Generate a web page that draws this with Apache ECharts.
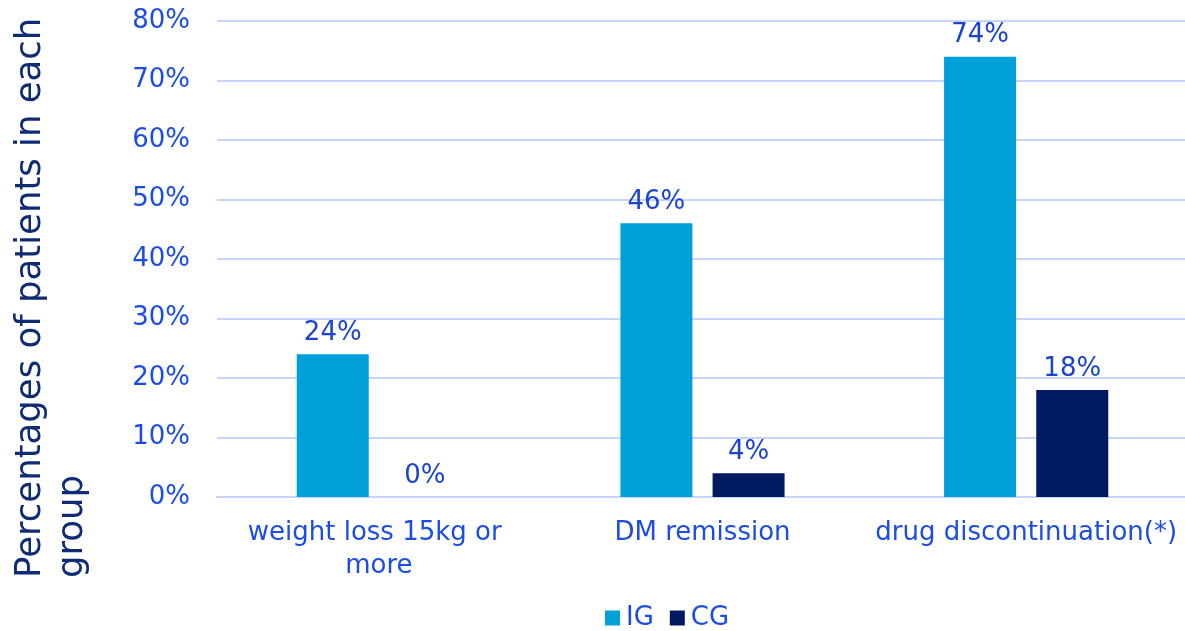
<!DOCTYPE html>
<html>
<head>
<meta charset="utf-8">
<script src="https://cdn.jsdelivr.net/npm/echarts@6/dist/echarts.min.js"></script>
<style>
  html, body { margin: 0; padding: 0; background: #ffffff; }
  #chart { width: 1185px; height: 631px; }
</style>
</head>
<body>
<div id="chart"></div>
<script>
// Outcome categories and the share of patients (%) in each group
const categories = ['weight loss 15kg or more', 'DM remission', 'drug discontinuation(*)'];
const igValues = [24, 46, 74];
const cgValues = [0, 4, 18];
const yTicks = [0, 10, 20, 30, 40, 50, 60, 70, 80];

const FONT = 'DejaVu Sans, Verdana, sans-serif';
const TEXT_BLUE = '#1b4de6';
const LABEL_BLUE = '#1a43cf';
const GRID = '#c6d4f7';

const chart = echarts.init(document.getElementById('chart'), null, { renderer: 'canvas' });

const labelStyle = {
  show: true,
  position: 'top',
  distance: 8,
  color: LABEL_BLUE,
  fontFamily: FONT,
  fontSize: 26,
  formatter: p => p.value + '%'
};

chart.setOption({
  animation: false,
  backgroundColor: '#ffffff',
  grid: {
    left: 217, width: 971, top: 21, bottom: 134,
    containLabel: false,
    outerBoundsMode: 'none'
  },
  legend: {
    top: 600,
    left: 600,
    itemWidth: 15,
    itemHeight: 15,
    itemGap: 16,
    icon: 'rect',
    textStyle: { color: TEXT_BLUE, fontFamily: FONT, fontSize: 26, padding: [0, 4, 0, 1] },
    data: ['IG', 'CG']
  },
  xAxis: {
    type: 'category',
    data: categories,
    axisLine: { show: true, lineStyle: { color: GRID, width: 2 } },
    axisTick: { show: false },
    axisLabel: {
      color: TEXT_BLUE,
      fontFamily: FONT,
      fontSize: 26,
      margin: 20,
      lineHeight: 33,
      width: 322,
      overflow: 'break',
      interval: 0
    }
  },
  yAxis: {
    type: 'value',
    min: yTicks[0],
    max: yTicks[yTicks.length - 1],
    interval: 10,
    axisLine: { show: false },
    axisTick: { show: false },
    splitLine: { lineStyle: { color: GRID, width: 2 } },
    axisLabel: {
      color: TEXT_BLUE,
      fontFamily: FONT,
      fontSize: 26,
      margin: 27,
      formatter: v => v + '%'
    }
  },
  graphic: [{
    type: 'text',
    x: 10,
    y: 578,
    rotation: Math.PI / 2,
    style: {
      text: 'Percentages of patients in each\ngroup',
      font: '35.5px ' + FONT,
      fill: '#0e2b74',
      textAlign: 'left',
      textVerticalAlign: 'top',
      lineHeight: 42
    }
  }],
  series: [
    {
      name: 'IG',
      type: 'bar',
      data: igValues,
      barWidth: 72,
      barGap: '28%',
      itemStyle: { color: '#00a0d8' },
      label: labelStyle
    },
    {
      name: 'CG',
      type: 'bar',
      data: cgValues,
      barWidth: 72,
      itemStyle: { color: '#001a61' },
      label: labelStyle
    }
  ]
});
</script>
</body>
</html>
